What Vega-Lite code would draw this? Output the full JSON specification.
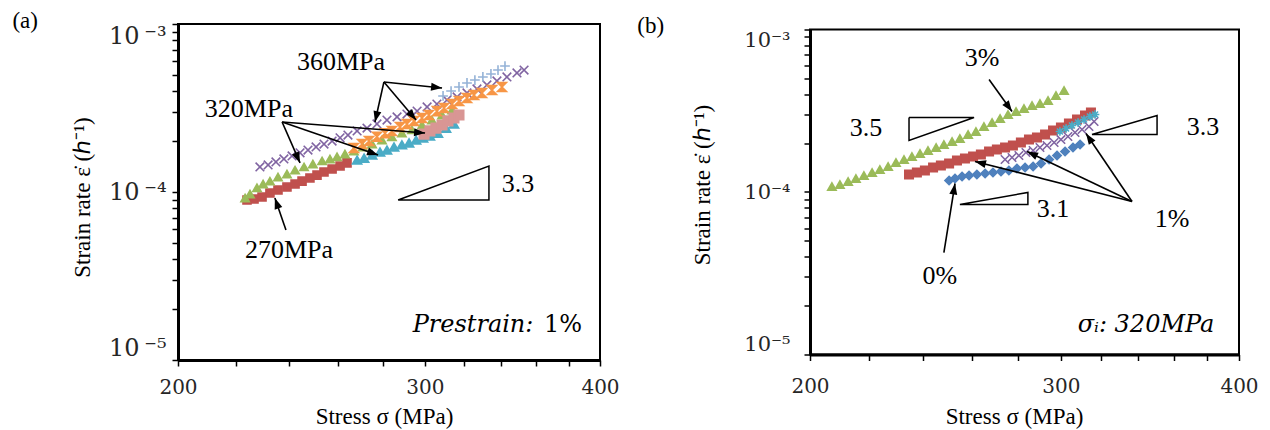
{
"$schema": "https://vega.github.io/schema/vega-lite/v6.json",
"background": "white",
"padding": {"left": 11, "top": 8, "right": 5, "bottom": 5},
"bounds": "flush",
"center": true,
"spacing": 210,
"resolve": {"scale": {"shape": "independent", "fill": "independent", "stroke": "independent", "size": "independent"}},
"config": {
 "view": {"stroke": "black", "strokeWidth": 2},
 "axis": {"domainColor": "black", "domainWidth": 3, "tickColor": "black", "tickWidth": 1.5, "tickSize": 6, "grid": false, "labelColor": "#262626", "labelFont": "DejaVu Serif", "titleFont": "Liberation Serif", "titleFontWeight": "normal", "titleColor": "black", "titleFontSize": 23, "labelOverlap": false}
},
"datasets": {
 "pa": [
  {"s":"270MPa","x":224.0,"y":8.96e-5},{"s":"270MPa","x":226.6,"y":9.09e-5},{"s":"270MPa","x":229.6,"y":9.34e-5},{"s":"270MPa","x":232.6,"y":9.86e-5},{"s":"270MPa","x":235.7,"y":1.028e-4},{"s":"270MPa","x":239.2,"y":1.07e-4},{"s":"270MPa","x":242.4,"y":1.116e-4},{"s":"270MPa","x":245.2,"y":1.16e-4},{"s":"270MPa","x":248.4,"y":1.212e-4},{"s":"270MPa","x":251.3,"y":1.26e-4},{"s":"270MPa","x":254.2,"y":1.315e-4},{"s":"270MPa","x":257.6,"y":1.37e-4},{"s":"270MPa","x":261.0,"y":1.428e-4},{"s":"270MPa","x":264.0,"y":1.49e-4},
  {"s":"320MPa-a","x":223.3,"y":9.21e-5},{"s":"320MPa-a","x":225.1,"y":9.73e-5},{"s":"320MPa-a","x":227.7,"y":1.06e-4},{"s":"320MPa-a","x":230.0,"y":1.116e-4},{"s":"320MPa-a","x":232.6,"y":1.16e-4},{"s":"320MPa-a","x":235.7,"y":1.228e-4},{"s":"320MPa-a","x":239.2,"y":1.28e-4},{"s":"320MPa-a","x":242.4,"y":1.35e-4},{"s":"320MPa-a","x":246.0,"y":1.41e-4},{"s":"320MPa-a","x":249.6,"y":1.468e-4},{"s":"320MPa-a","x":253.4,"y":1.53e-4},{"s":"320MPa-a","x":256.7,"y":1.572e-4},{"s":"320MPa-a","x":259.7,"y":1.62e-4},{"s":"320MPa-a","x":263.1,"y":1.684e-4},{"s":"320MPa-a","x":267.0,"y":1.75e-4},{"s":"320MPa-a","x":271.0,"y":1.853e-4},{"s":"320MPa-a","x":275.1,"y":1.93e-4},{"s":"320MPa-a","x":279.6,"y":2.039e-4},{"s":"320MPa-a","x":284.2,"y":2.13e-4},{"s":"320MPa-a","x":288.9,"y":2.24e-4},{"s":"320MPa-a","x":293.7,"y":2.34e-4},{"s":"320MPa-a","x":298.6,"y":2.505e-4},{"s":"320MPa-a","x":303.5,"y":2.68e-4},{"s":"320MPa-a","x":308.6,"y":2.873e-4},{"s":"320MPa-a","x":313.7,"y":3.077e-4},
  {"s":"360MPa-a","x":228.8,"y":1.41e-4},{"s":"360MPa-a","x":231.9,"y":1.448e-4},{"s":"360MPa-a","x":234.9,"y":1.51e-4},{"s":"360MPa-a","x":238.0,"y":1.572e-4},{"s":"360MPa-a","x":241.2,"y":1.638e-4},{"s":"360MPa-a","x":244.4,"y":1.71e-4},{"s":"360MPa-a","x":247.6,"y":1.778e-4},{"s":"360MPa-a","x":250.9,"y":1.853e-4},{"s":"360MPa-a","x":254.2,"y":1.93e-4},{"s":"360MPa-a","x":257.6,"y":2.011e-4},{"s":"360MPa-a","x":261.0,"y":2.10e-4},{"s":"360MPa-a","x":264.4,"y":2.184e-4},{"s":"360MPa-a","x":268.4,"y":2.31e-4},{"s":"360MPa-a","x":272.8,"y":2.40e-4},{"s":"360MPa-a","x":277.3,"y":2.54e-4},{"s":"360MPa-a","x":281.9,"y":2.68e-4},{"s":"360MPa-a","x":286.6,"y":2.80e-4},{"s":"360MPa-a","x":291.3,"y":2.912e-4},{"s":"360MPa-a","x":296.2,"y":3.03e-4},{"s":"360MPa-a","x":301.1,"y":3.206e-4},{"s":"360MPa-a","x":306.0,"y":3.34e-4},{"s":"360MPa-a","x":311.1,"y":3.529e-4},{"s":"360MPa-a","x":316.3,"y":3.677e-4},{"s":"360MPa-a","x":321.5,"y":3.884e-4},{"s":"360MPa-a","x":326.8,"y":4.103e-4},{"s":"360MPa-a","x":332.2,"y":4.335e-4},{"s":"360MPa-a","x":337.7,"y":4.579e-4},{"s":"360MPa-a","x":343.3,"y":4.837e-4},{"s":"360MPa-a","x":349.0,"y":5.11e-4},{"s":"360MPa-a","x":353.1,"y":5.32e-4},
  {"s":"360MPa-b","x":267.0,"y":1.83e-4},{"s":"360MPa-b","x":270.6,"y":1.93e-4},{"s":"360MPa-b","x":273.7,"y":2.011e-4},{"s":"360MPa-b","x":277.3,"y":2.13e-4},{"s":"360MPa-b","x":281.0,"y":2.24e-4},{"s":"360MPa-b","x":284.2,"y":2.31e-4},{"s":"360MPa-b","x":288.0,"y":2.44e-4},{"s":"360MPa-b","x":291.3,"y":2.54e-4},{"s":"360MPa-b","x":294.7,"y":2.65e-4},{"s":"360MPa-b","x":298.6,"y":2.757e-4},{"s":"360MPa-b","x":302.0,"y":2.87e-4},{"s":"360MPa-b","x":306.0,"y":3.03e-4},{"s":"360MPa-b","x":309.6,"y":3.16e-4},{"s":"360MPa-b","x":313.7,"y":3.34e-4},{"s":"360MPa-b","x":317.3,"y":3.479e-4},{"s":"360MPa-b","x":321.5,"y":3.626e-4},{"s":"360MPa-b","x":325.2,"y":3.78e-4},{"s":"360MPa-b","x":329.5,"y":3.884e-4},{"s":"360MPa-b","x":335.0,"y":4.05e-4},{"s":"360MPa-b","x":340.5,"y":4.22e-4},
  {"s":"320MPa-b","x":268.4,"y":1.55e-4},{"s":"320MPa-b","x":271.5,"y":1.59e-4},{"s":"320MPa-b","x":275.1,"y":1.661e-4},{"s":"320MPa-b","x":278.7,"y":1.73e-4},{"s":"320MPa-b","x":281.9,"y":1.778e-4},{"s":"320MPa-b","x":285.2,"y":1.853e-4},{"s":"320MPa-b","x":288.9,"y":1.91e-4},{"s":"320MPa-b","x":292.3,"y":1.96e-4},{"s":"320MPa-b","x":295.7,"y":2.039e-4},{"s":"320MPa-b","x":299.1,"y":2.10e-4},{"s":"320MPa-b","x":302.5,"y":2.154e-4},{"s":"320MPa-b","x":306.5,"y":2.24e-4},{"s":"320MPa-b","x":310.6,"y":2.40e-4},{"s":"320MPa-b","x":314.7,"y":2.54e-4},
  {"s":"320MPa-c","x":299.6,"y":2.21e-4},{"s":"320MPa-c","x":302.5,"y":2.31e-4},{"s":"320MPa-c","x":305.5,"y":2.40e-4},{"s":"320MPa-c","x":308.6,"y":2.505e-4},{"s":"320MPa-c","x":311.6,"y":2.65e-4},{"s":"320MPa-c","x":314.7,"y":2.757e-4},{"s":"320MPa-c","x":317.3,"y":2.87e-4},
  {"s":"360MPa-c","x":309.1,"y":3.728e-4},{"s":"360MPa-c","x":313.2,"y":3.99e-4},{"s":"360MPa-c","x":317.3,"y":4.22e-4},{"s":"360MPa-c","x":321.5,"y":4.455e-4},{"s":"360MPa-c","x":325.7,"y":4.64e-4},{"s":"360MPa-c","x":330.0,"y":4.837e-4},{"s":"360MPa-c","x":334.4,"y":5.04e-4},{"s":"360MPa-c","x":338.3,"y":5.32e-4},{"s":"360MPa-c","x":342.2,"y":5.62e-4}
 ],
 "pb": [
  {"s":"3%","x":207.2,"y":1.081e-4},{"s":"3%","x":209.9,"y":1.112e-4},{"s":"3%","x":212.7,"y":1.161e-4},{"s":"3%","x":215.4,"y":1.211e-4},{"s":"3%","x":218.2,"y":1.263e-4},{"s":"3%","x":221.1,"y":1.318e-4},{"s":"3%","x":223.9,"y":1.375e-4},{"s":"3%","x":226.9,"y":1.435e-4},{"s":"3%","x":229.8,"y":1.519e-4},{"s":"3%","x":232.8,"y":1.585e-4},{"s":"3%","x":235.8,"y":1.654e-4},{"s":"3%","x":238.9,"y":1.725e-4},{"s":"3%","x":242.0,"y":1.800e-4},{"s":"3%","x":245.2,"y":1.878e-4},{"s":"3%","x":248.3,"y":1.960e-4},{"s":"3%","x":251.6,"y":2.045e-4},{"s":"3%","x":254.8,"y":2.134e-4},{"s":"3%","x":258.2,"y":2.259e-4},{"s":"3%","x":261.5,"y":2.357e-4},{"s":"3%","x":264.9,"y":2.529e-4},{"s":"3%","x":268.4,"y":2.677e-4},{"s":"3%","x":271.9,"y":2.834e-4},{"s":"3%","x":275.4,"y":2.999e-4},{"s":"3%","x":279.0,"y":3.130e-4},{"s":"3%","x":282.6,"y":3.266e-4},{"s":"3%","x":286.3,"y":3.405e-4},{"s":"3%","x":290.0,"y":3.503e-4},{"s":"3%","x":293.8,"y":3.656e-4},{"s":"3%","x":297.6,"y":3.926e-4},{"s":"3%","x":301.5,"y":4.213e-4},
  {"s":"0%","x":250.4,"y":1.177e-4},{"s":"0%","x":252.8,"y":1.211e-4},{"s":"0%","x":255.7,"y":1.245e-4},{"s":"0%","x":258.6,"y":1.263e-4},{"s":"0%","x":261.9,"y":1.281e-4},{"s":"0%","x":265.4,"y":1.300e-4},{"s":"0%","x":268.8,"y":1.318e-4},{"s":"0%","x":272.3,"y":1.337e-4},{"s":"0%","x":275.8,"y":1.356e-4},{"s":"0%","x":279.4,"y":1.395e-4},{"s":"0%","x":283.1,"y":1.415e-4},{"s":"0%","x":286.8,"y":1.435e-4},{"s":"0%","x":290.5,"y":1.497e-4},{"s":"0%","x":294.3,"y":1.585e-4},{"s":"0%","x":298.1,"y":1.677e-4},{"s":"0%","x":302.0,"y":1.775e-4},{"s":"0%","x":305.9,"y":1.878e-4},{"s":"0%","x":309.4,"y":1.960e-4},
  {"s":"1%-a","x":234.7,"y":1.281e-4},{"s":"1%-a","x":237.7,"y":1.318e-4},{"s":"1%-a","x":240.8,"y":1.356e-4},{"s":"1%-a","x":244.0,"y":1.415e-4},{"s":"1%-a","x":247.1,"y":1.456e-4},{"s":"1%-a","x":250.4,"y":1.497e-4},{"s":"1%-a","x":253.6,"y":1.563e-4},{"s":"1%-a","x":256.9,"y":1.608e-4},{"s":"1%-a","x":260.3,"y":1.654e-4},{"s":"1%-a","x":263.6,"y":1.701e-4},{"s":"1%-a","x":267.1,"y":1.775e-4},{"s":"1%-a","x":270.5,"y":1.826e-4},{"s":"1%-a","x":274.1,"y":1.878e-4},{"s":"1%-a","x":277.6,"y":1.932e-4},{"s":"1%-a","x":281.2,"y":2.016e-4},{"s":"1%-a","x":284.9,"y":2.103e-4},{"s":"1%-a","x":288.6,"y":2.164e-4},{"s":"1%-a","x":292.4,"y":2.259e-4},{"s":"1%-a","x":296.2,"y":2.389e-4},{"s":"1%-a","x":300.0,"y":2.493e-4},{"s":"1%-a","x":303.9,"y":2.639e-4},{"s":"1%-a","x":307.9,"y":2.793e-4},{"s":"1%-a","x":311.9,"y":2.956e-4},{"s":"1%-a","x":314.9,"y":3.084e-4},
  {"s":"1%-b","x":274.1,"y":1.585e-4},{"s":"1%-b","x":277.2,"y":1.631e-4},{"s":"1%-b","x":280.3,"y":1.677e-4},{"s":"1%-b","x":283.5,"y":1.750e-4},{"s":"1%-b","x":286.8,"y":1.800e-4},{"s":"1%-b","x":290.0,"y":1.878e-4},{"s":"1%-b","x":293.3,"y":1.932e-4},{"s":"1%-b","x":296.7,"y":2.016e-4},{"s":"1%-b","x":300.0,"y":2.103e-4},{"s":"1%-b","x":303.4,"y":2.196e-4},{"s":"1%-b","x":306.9,"y":2.323e-4},{"s":"1%-b","x":310.4,"y":2.425e-4},{"s":"1%-b","x":313.9,"y":2.529e-4},{"s":"1%-b","x":316.5,"y":2.716e-4},
  {"s":"1%-c","x":299.5,"y":2.357e-4},{"s":"1%-c","x":302.5,"y":2.459e-4},{"s":"1%-c","x":305.4,"y":2.566e-4},{"s":"1%-c","x":308.4,"y":2.677e-4},{"s":"1%-c","x":311.4,"y":2.793e-4},{"s":"1%-c","x":314.4,"y":2.914e-4},{"s":"1%-c","x":317.0,"y":2.999e-4}
 ],
 "tra": [
  {"id":"t","o":1,"x":287.1,"y":8.96e-5},{"id":"t","o":2,"x":333.3,"y":1.428e-4},{"id":"t","o":3,"x":333.3,"y":8.96e-5},{"id":"t","o":4,"x":287.1,"y":8.96e-5}
 ],
 "trb": [
  {"id":"t35","o":1,"x":234.7,"y":2.874e-4},{"id":"t35","o":2,"x":260.7,"y":2.874e-4},{"id":"t35","o":3,"x":234.7,"y":2.075e-4},{"id":"t35","o":4,"x":234.7,"y":2.874e-4},
  {"id":"t33","o":1,"x":315.4,"y":2.259e-4},{"id":"t33","o":2,"x":350.4,"y":2.956e-4},{"id":"t33","o":3,"x":350.4,"y":2.259e-4},{"id":"t33","o":4,"x":315.4,"y":2.259e-4},
  {"id":"t31","o":1,"x":254.8,"y":8.38e-5},{"id":"t31","o":2,"x":284.4,"y":9.93e-5},{"id":"t31","o":3,"x":284.4,"y":8.38e-5},{"id":"t31","o":4,"x":254.8,"y":8.38e-5}
 ],
 "ara": [
  {"x":234.5,"y":9.21e-5,"x2":238.8,"y2":5.94e-5,"ang":-19},
  {"x":244.4,"y":1.49e-4,"x2":237.3,"y2":2.61e-4,"ang":156},
  {"x":277.8,"y":1.661e-4,"x2":237.3,"y2":2.61e-4,"ang":109},
  {"x":300.1,"y":2.244e-4,"x2":237.3,"y2":2.61e-4,"ang":94},
  {"x":308.6,"y":4.16e-4,"x2":280.5,"y2":4.52e-4,"ang":96},
  {"x":276.4,"y":2.61e-4,"x2":280.5,"y2":4.52e-4,"ang":193},
  {"x":295.7,"y":2.68e-4,"x2":280.5,"y2":4.52e-4,"ang":140}
 ],
 "arb": [
  {"x":277.2,"y":3.13e-4,"x2":267.1,"y2":4.92e-4,"ang":144},
  {"x":252.8,"y":1.128e-4,"x2":248.3,"y2":4.24e-5,"ang":9},
  {"x":312.4,"y":2.291e-4,"x2":336.5,"y2":8.74e-5,"ang":-34},
  {"x":284.0,"y":1.775e-4,"x2":336.5,"y2":8.74e-5,"ang":-64.5},
  {"x":261.1,"y":1.541e-4,"x2":336.5,"y2":8.74e-5,"ang":-75.7}
 ],
 "txa": [
  {"t":"360MPa","x":261.4,"y":5.32e-4},{"t":"320MPa","x":224.7,"y":2.795e-4},{"t":"270MPa","x":240.0,"y":4.05e-5},{"t":"3.3","x":349.6,"y":1.0e-4}
 ],
 "txb": [
  {"t":"3%","x":264.1,"y":5.92e-4},{"t":"3.5","x":218.9,"y":2.196e-4},{"t":"3.3","x":377.4,"y":2.227e-4},{"t":"3.1","x":296.2,"y":6.97e-5},{"t":"1%","x":359.0,"y":6.05e-5},{"t":"0%","x":246.7,"y":2.70e-5}
 ],
 "pla": [{"t":"(a)","x":155.6,"y":9.47e-4}],
 "plb": [{"t":"(b)","x":154.6,"y":9.58e-4}],
 "ita": [{"t":"Prestrain:","x":324.7,"y":1.468e-5}],
 "itb": [{"t":"\u03c3\u1d62: 320MPa","x":344.2,"y":1.385e-5}],
 "pca": [{"t":"1%","x":376.4,"y":1.468e-5}]
},
"hconcat": [
 {
  "width": 422, "height": 336,
  "encoding": {
   "x": {"field":"x","type":"quantitative","scale":{"type":"log","domain":[200,400],"nice":false},
    "axis":{"title":"Stress \u03c3 (MPa)","values":[200,220,240,260,280,300,320,340,360,380,400],"labelExpr":"datum.value == 200 || datum.value == 300 || datum.value == 400 ? '' + datum.value : ''","labelFontSize":20,"labelFlush":false,"labelPadding":11,"titleX":206,"titleY":63,"titleBaseline":"alphabetic"}},
   "y": {"field":"y","type":"quantitative","scale":{"type":"log","domain":[1e-5,1e-3],"nice":false},
    "axis":{"title":"Strain rate \u03b5\u0307 (\u210e\u207b\u00b9)","values":[1e-5,2e-5,3e-5,4e-5,5e-5,6e-5,7e-5,8e-5,9e-5,1e-4,2e-4,3e-4,4e-4,5e-4,6e-4,7e-4,8e-4,9e-4,1e-3],
     "labelExpr":"abs(log(datum.value)/LN10 - round(log(datum.value)/LN10)) < 0.001 ? '10\u2009' + (round(log(datum.value)/LN10) == -3 ? '\u207b\u00b3' : (round(log(datum.value)/LN10) == -4 ? '\u207b\u2074' : '\u207b\u2075')) : ''",
     "labelFontSize":24,"labelFlush":true,"labelPadding":6,"titleX":-89,"titleY":173,"titleBaseline":"alphabetic"}}
  },
  "layer": [
   {"data":{"name":"pa"},"mark":{"type":"point","strokeWidth":1.6,"opacity":1},
    "encoding":{
     "shape":{"field":"s","type":"nominal","legend":null,"scale":{"domain":["270MPa","320MPa-a","360MPa-a","360MPa-b","320MPa-b","320MPa-c","360MPa-c"],"range":["square","triangle-up","M-1,-1L1,1M-1,1L1,-1","M-1,-1L1,-1L-1,1L1,1Z","triangle-up","square","M-1,0L1,0M0,-1L0,1"]}},
     "fill":{"field":"s","type":"nominal","legend":null,"scale":{"domain":["270MPa","320MPa-a","360MPa-a","360MPa-b","320MPa-b","320MPa-c","360MPa-c"],"range":["#c0504d","#9bbb59","#8064a2","#f79646","#4bacc6","#d99694","#95b3d7"]}},
     "stroke":{"field":"s","type":"nominal","legend":null,"scale":{"domain":["270MPa","320MPa-a","360MPa-a","360MPa-b","320MPa-b","320MPa-c","360MPa-c"],"range":["#c0504d","#9bbb59","#8064a2","#f79646","#4bacc6","#d99694","#95b3d7"]}},
     "size":{"field":"s","type":"nominal","legend":null,"scale":{"domain":["270MPa","320MPa-a","360MPa-a","360MPa-b","320MPa-b","320MPa-c","360MPa-c"],"range":[64,95,72,56,100,70,144]}}
    }},
   {"data":{"name":"tra"},"mark":{"type":"line","color":"black","strokeWidth":1.5},
    "encoding":{"detail":{"field":"id"},"order":{"field":"o","type":"quantitative"}}},
   {"data":{"name":"ara"},"mark":{"type":"rule","color":"black","strokeWidth":1.6},
    "encoding":{"x2":{"field":"x2"},"y2":{"field":"y2"}}},
   {"data":{"name":"ara"},"mark":{"type":"point","shape":"M0,0L0.8,2.2L-0.8,2.2Z","filled":true,"color":"black","size":100,"opacity":1},
    "encoding":{"angle":{"field":"ang","type":"quantitative","scale":null}}},
   {"data":{"name":"txa"},"mark":{"type":"text","font":"Liberation Serif","fontSize":26,"align":"center","baseline":"alphabetic","color":"black"},
    "encoding":{"text":{"field":"t"}}},
   {"data":{"name":"pla"},"mark":{"type":"text","font":"Liberation Serif","fontSize":23,"align":"center","baseline":"alphabetic","color":"black"},
    "encoding":{"text":{"field":"t"}}},
   {"data":{"name":"ita"},"mark":{"type":"text","font":"DejaVu Serif","fontStyle":"italic","fontSize":24,"align":"center","baseline":"alphabetic","color":"black"},
    "encoding":{"text":{"field":"t"}}},
   {"data":{"name":"pca"},"mark":{"type":"text","font":"DejaVu Serif","fontSize":24,"align":"center","baseline":"alphabetic","color":"black"},
    "encoding":{"text":{"field":"t"}}}
  ]
 },
 {
  "width": 429, "height": 325,
  "encoding": {
   "x": {"field":"x","type":"quantitative","scale":{"type":"log","domain":[200,400],"nice":false},
    "axis":{"title":"Stress \u03c3 (MPa)","values":[200,220,240,260,280,300,320,340,360,380,400],"labelExpr":"datum.value == 200 || datum.value == 300 || datum.value == 400 ? '' + datum.value : ''","labelFontSize":20,"labelFlush":false,"labelPadding":16,"titleX":204,"titleY":69,"titleBaseline":"alphabetic"}},
   "y": {"field":"y","type":"quantitative","scale":{"type":"log","domain":[1e-5,1e-3],"nice":false},
    "axis":{"title":"Strain rate \u03b5\u0307 (\u210e\u207b\u00b9)","values":[1e-5,2e-5,3e-5,4e-5,5e-5,6e-5,7e-5,8e-5,9e-5,1e-4,2e-4,3e-4,4e-4,5e-4,6e-4,7e-4,8e-4,9e-4,1e-3],
     "labelExpr":"abs(log(datum.value)/LN10 - round(log(datum.value)/LN10)) < 0.001 ? '10' + (round(log(datum.value)/LN10) == -3 ? '\u207b\u00b3' : (round(log(datum.value)/LN10) == -4 ? '\u207b\u2074' : '\u207b\u2075')) : ''",
     "labelFontSize":21,"labelFlush":true,"labelPadding":14,"titleX":-101,"titleY":155,"titleBaseline":"alphabetic"}}
  },
  "layer": [
   {"data":{"name":"pb"},"mark":{"type":"point","strokeWidth":1.6,"opacity":1},
    "encoding":{
     "shape":{"field":"s","type":"nominal","legend":null,"scale":{"domain":["3%","0%","1%-a","1%-b","1%-c"],"range":["triangle-up","diamond","square","M-1,-1L1,1M-1,1L1,-1","M-1,0L1,0M0,-1L0,1M-0.7,-0.7L0.7,0.7M-0.7,0.7L0.7,-0.7"]}},
     "fill":{"field":"s","type":"nominal","legend":null,"scale":{"domain":["3%","0%","1%-a","1%-b","1%-c"],"range":["#9bbb59","#4f81bd","#c0504d","#8064a2","#4bacc6"]}},
     "stroke":{"field":"s","type":"nominal","legend":null,"scale":{"domain":["3%","0%","1%-a","1%-b","1%-c"],"range":["#9bbb59","#4f81bd","#c0504d","#8064a2","#4bacc6"]}},
     "size":{"field":"s","type":"nominal","legend":null,"scale":{"domain":["3%","0%","1%-a","1%-b","1%-c"],"range":[70,72,64,56,72]}}
    }},
   {"data":{"name":"trb"},"mark":{"type":"line","color":"black","strokeWidth":1.5},
    "encoding":{"detail":{"field":"id"},"order":{"field":"o","type":"quantitative"}}},
   {"data":{"name":"arb"},"mark":{"type":"rule","color":"black","strokeWidth":1.6},
    "encoding":{"x2":{"field":"x2"},"y2":{"field":"y2"}}},
   {"data":{"name":"arb"},"mark":{"type":"point","shape":"M0,0L0.8,2.2L-0.8,2.2Z","filled":true,"color":"black","size":100,"opacity":1},
    "encoding":{"angle":{"field":"ang","type":"quantitative","scale":null}}},
   {"data":{"name":"txb"},"mark":{"type":"text","font":"Liberation Serif","fontSize":26,"align":"center","baseline":"alphabetic","color":"black"},
    "encoding":{"text":{"field":"t"}}},
   {"data":{"name":"plb"},"mark":{"type":"text","font":"Liberation Serif","fontSize":23,"align":"center","baseline":"alphabetic","color":"black"},
    "encoding":{"text":{"field":"t"}}},
   {"data":{"name":"itb"},"mark":{"type":"text","font":"DejaVu Serif","fontStyle":"italic","fontSize":24,"align":"center","baseline":"alphabetic","color":"black"},
    "encoding":{"text":{"field":"t"}}}
  ]
 }
]
}
